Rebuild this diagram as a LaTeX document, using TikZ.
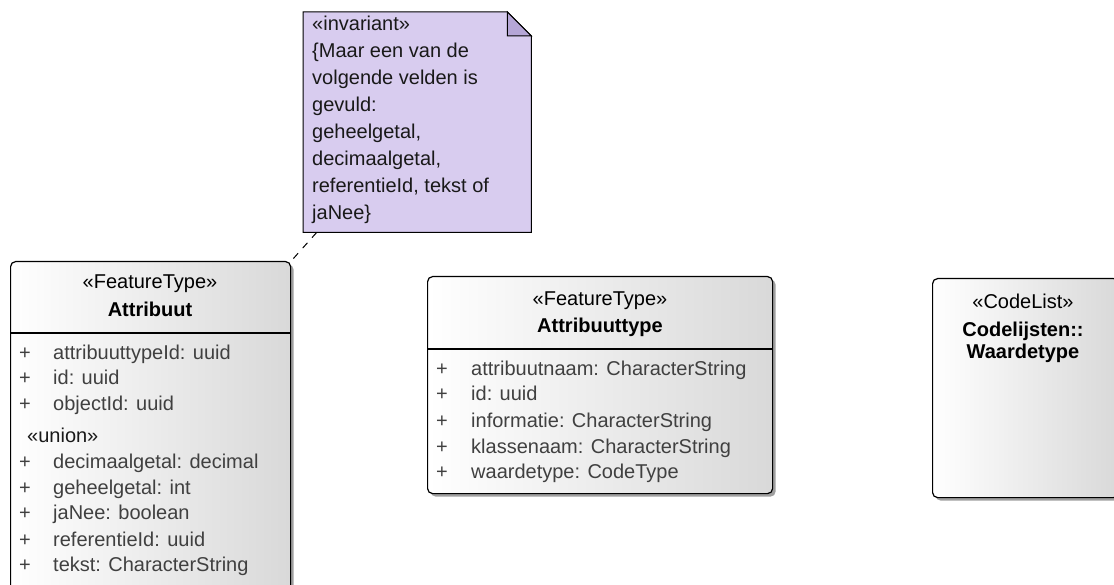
\documentclass[tikz,border=0pt]{standalone}
\usepackage{fontspec}
\setmainfont{Liberation Sans}
\usetikzlibrary{shadows,calc}
\definecolor{notefill}{HTML}{D8CCEF}
\definecolor{notefold}{HTML}{B5A6D6}
\definecolor{attrtext}{HTML}{404040}
\begin{document}
\begin{tikzpicture}[x=1pt,y=-1pt,
  font=\fontsize{20}{24}\selectfont,
  umlbox/.style={draw=black, line width=1.2pt, rounded corners=5pt,
    left color=white, right color=gray!30,
    drop shadow={shadow xshift=3pt, shadow yshift=-3pt, fill=gray!75, opacity=1},
    anchor=north west, inner sep=0pt},
  txt/.style={inner sep=0pt, text height=15pt, text depth=4pt},
  rowtxt/.style={txt, anchor=west, text=attrtext},
  titletxt/.style={txt, font=\fontsize{20}{24}\selectfont\bfseries},
  sep/.style={line width=1.2pt},
  notetxt/.style={txt, anchor=west, text=black!90}
]
\useasboundingbox (0,0) rectangle (1114,585);

% ---- boxes
\node[umlbox, minimum width=280pt, minimum height=345pt] (attr) at (10,261) {};
\node[umlbox, minimum width=345pt, minimum height=217pt] (atype) at (427,276) {};
\node[umlbox, minimum width=186pt, minimum height=219pt] (code) at (932,278) {};

\draw[sep] ($(attr.north west)+(0,72)$) -- ($(attr.north east)+(0,72)$);
\draw[sep] ($(atype.north west)+(0,73)$) -- ($(atype.north east)+(0,73)$);

% ---- note
\node[minimum width=228pt, minimum height=220pt, anchor=north west, inner sep=0pt] (note) at (303,12) {};
\draw[fill=notefill, line width=1pt] (note.north west) -- ($(note.north east)+(-24,0)$)
  -- ($(note.north east)+(0,24)$) -- (note.south east) -- (note.south west) -- cycle;
\draw[fill=notefold, line width=1pt] ($(note.north east)+(-24,0)$) -- ($(note.north east)+(-24,24)$)
  -- ($(note.north east)+(0,24)$) -- cycle;
\draw[line width=1pt, dash pattern=on 7pt off 7pt] ($(note.south west)!0.06!(note.south east)$) -- (attr.north east);

\foreach \t/\y [count=\i] in {«invariant»/25, \{Maar een van de/52, volgende velden is/79,
  gevuld:/106, geheelgetal{,}/133, decimaalgetal{,}/160, referentieId{,} tekst of/187, jaNee\}/214}
  \node[notetxt] (n\i) at (312,\y) {\t};

% ---- Attribuut
\node[txt] (s1) at (150,283) {«FeatureType»};
\node[titletxt] (t1) at (150,311) {Attribuut};
\foreach \t/\y [count=\i] in {attribuuttypeId: uuid/354, id: uuid/379, objectId: uuid/405,
  decimaalgetal: decimal/463, geheelgetal: int/489, jaNee: boolean/514,
  referentieId: uuid/541, tekst: CharacterString/566}{
  \node[rowtxt] (ap\i) at (19,\y) {+};
  \node[rowtxt] (at\i) at (53,\y) {\t};
}
\node[txt, anchor=west, text=black!90] (u1) at (27,437) {«union»};

% ---- Attribuuttype
\node[txt] (s2) at (600,300) {«FeatureType»};
\node[titletxt] (t2) at (600,327) {Attribuuttype};
\foreach \t/\y [count=\i] in {attribuutnaam: CharacterString/370, id: uuid/395,
  informatie: CharacterString/422, klassenaam: CharacterString/448, waardetype: CodeType/473}{
  \node[rowtxt] (bp\i) at (436,\y) {+};
  \node[rowtxt] (bt\i) at (471,\y) {\t};
}

% ---- CodeList
\node[txt] (s3) at (1023,303) {«CodeList»};
\node[titletxt] (t3) at (1023,331) {Codelijsten::};
\node[titletxt] (t4) at (1023,353) {Waardetype};
\end{tikzpicture}
\end{document}
